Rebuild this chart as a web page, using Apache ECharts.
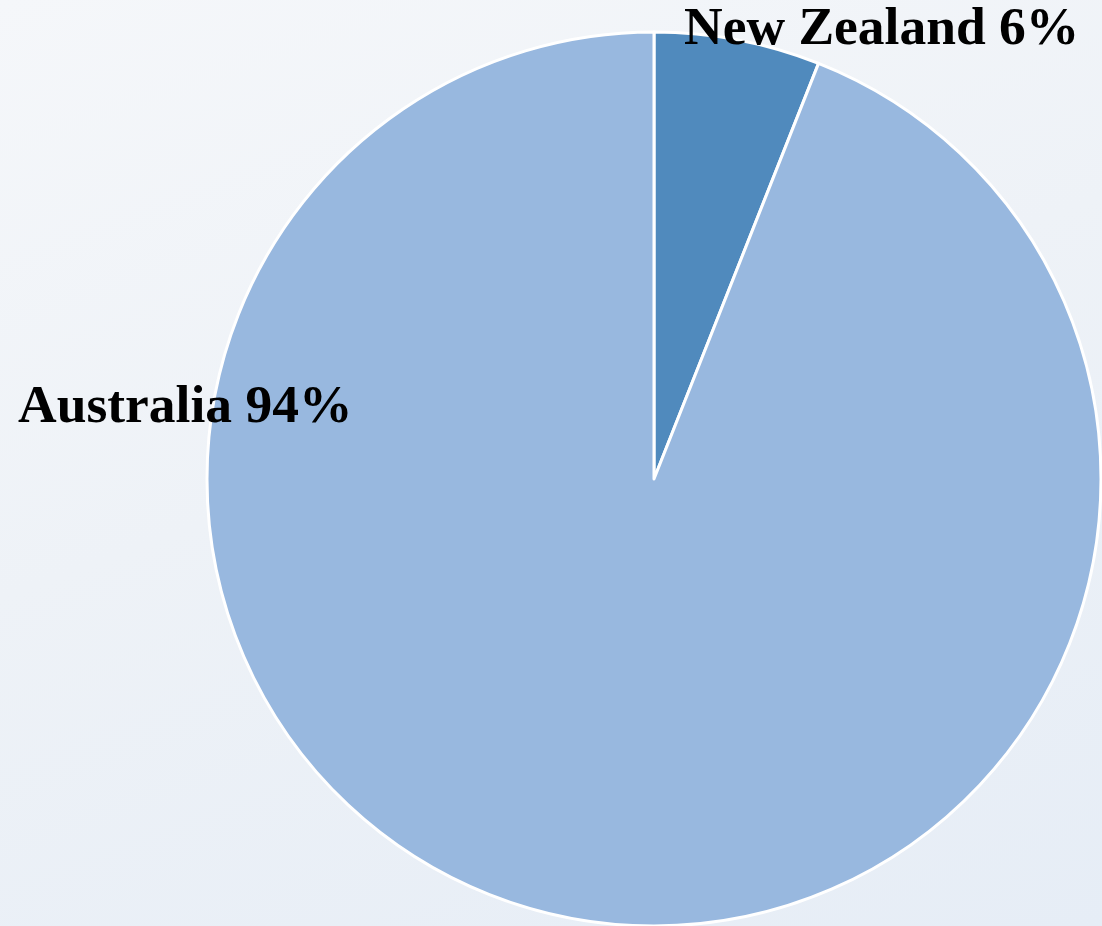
<!DOCTYPE html>
<html>
<head>
<meta charset="utf-8">
<script src="https://cdn.jsdelivr.net/npm/echarts@6/dist/echarts.min.js"></script>
<style>
  html, body { margin: 0; padding: 0; }
  #chart {
    width: 1102px;
    height: 926px;
    background: linear-gradient(160deg, #f5f7fa 0%, #eef2f7 45%, #e6edf6 100%);
  }
</style>
</head>
<body>
<div id="chart"></div>
<script>
const regions = ['New Zealand', 'Australia'];
const shares = [6, 94];
const sliceColors = ['#508abd', '#98b8df'];

const chart = echarts.init(document.getElementById('chart'));

// label anchors (left edge, vertical middle)
const labelSpots = [
  { x: 684, y: 30 },
  { x: 18, y: 408 }
];

const option = {
  backgroundColor: 'transparent',
  series: [
    {
      type: 'pie',
      center: [654, 479],
      radius: 447,
      startAngle: 90,
      clockwise: true,
      avoidLabelOverlap: false,
      silent: true,
      itemStyle: {
        borderColor: '#ffffff',
        borderWidth: 3
      },
      label: {
        show: true,
        position: 'outside',
        formatter: '{b} {d}%',
        fontFamily: '"Liberation Serif", "Times New Roman", serif',
        fontWeight: 'bold',
        fontSize: 53.5,
        color: '#000000'
      },
      labelLine: { show: false },
      labelLayout: function (params) {
        const spot = labelSpots[params.dataIndex];
        return { x: spot.x, y: spot.y, align: 'left', verticalAlign: 'middle' };
      },
      data: regions.map((name, i) => ({
        name: name,
        value: shares[i],
        itemStyle: { color: sliceColors[i] }
      }))
    }
  ]
};

chart.setOption(option);
</script>
</body>
</html>
